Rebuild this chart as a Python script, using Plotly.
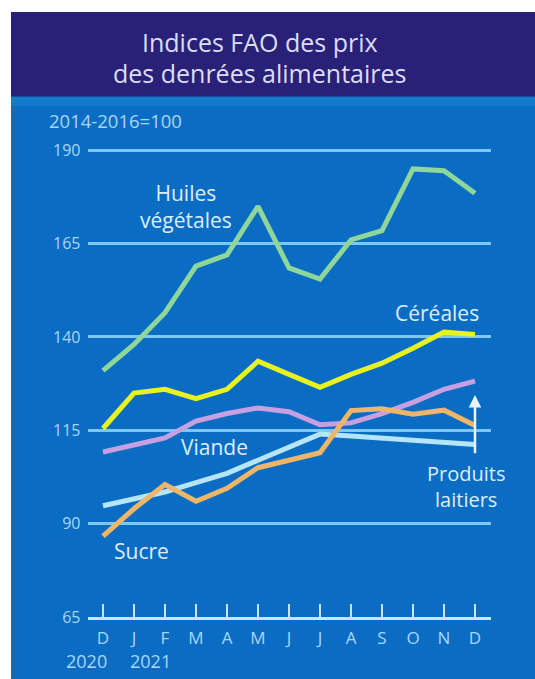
import plotly.graph_objects as go

# ---- data ----
months = ["D", "J", "F", "M", "A", "M", "J", "J", "A", "S", "O", "N", "D"]
huiles_vegetales = [131, 138, 146.5, 159, 162, 175, 158.5, 155.5, 166, 168.5, 185, 184.5, 178.5]
cereales = [115.5, 125, 126, 123.5, 126, 133.5, 130, 126.5, 130, 133, 137, 141.3, 140.7]
produits_laitiers = [109.2, 111, 113, 117.5, 119.5, 121, 120, 116.5, 117, 119.5, 122.5, 126, 128.2]
viande = [94.8, 96.5, 98.5, 101, 103.5, 107, 110.5, 114, 113.5, 113, 112.5, 112, 111.2]
sucre = [86.7, 94, 100.5, 96, 99.5, 105, 107, 109, 120.3, 120.8, 119.3, 120.4, 116.3]
y_ticks = [65, 90, 115, 140, 165, 190]
years = ["2020", "2021"]

W, H = 535, 679
HM = 669  # empirical vertical mapping (rendered picture is slightly squeezed)
def px(p): return p / W
def py(p): return 1 - p / HM

idx = list(range(len(months)))

fig = go.Figure()
series = [
    (viande, "#B6E4F8"),
    (produits_laitiers, "#C7A0E2"),
    (sucre, "#EFB668"),
    (cereales, "#E8F222"),
    (huiles_vegetales, "#8ED69A"),
]
for vals, col in series:
    fig.add_trace(go.Scatter(x=idx, y=vals, mode="lines",
                             line=dict(color=col, width=5), hoverinfo="skip"))

lab_col = "#DDEEFA"
tick_col = "#A9D6F5"
annos = [
    dict(text="Indices FAO des prix", x=px(260), y=py(42), font=dict(size=25, color="#DCDDF2")),
    dict(text="des denrées alimentaires", x=px(259), y=py(73), font=dict(size=25, color="#DCDDF2")),
    dict(text="2014-2016=100", x=px(47), y=py(121), xanchor="left", font=dict(size=18.5, color=tick_col)),
    dict(text="Huiles<br>végétales", x=px(186), y=py(207), font=dict(size=21, color=lab_col)),
    dict(text="Céréales", x=px(437), y=py(313), font=dict(size=21, color=lab_col)),
    dict(text="Viande", x=px(214), y=py(448), font=dict(size=21, color=lab_col)),
    dict(text="Sucre", x=px(141), y=py(552), font=dict(size=21, color=lab_col)),
    dict(text="Produits<br>laitiers", x=px(466), y=py(487), font=dict(size=20, color=lab_col)),
    dict(text=years[0], x=px(86), y=py(661.5), font=dict(size=18, color=tick_col)),
    dict(text=years[1], x=px(150), y=py(661.5), font=dict(size=18, color=tick_col)),
]
for a in annos:
    a.setdefault("xanchor", "center")
    fig.add_annotation(xref="paper", yref="paper", yanchor="middle", showarrow=False, **a)

# arrow pointing to the dairy line
fig.add_annotation(x=12, y=124.5, ax=12, ay=108.5, xref="x", yref="y", axref="x", ayref="y",
                   text="", showarrow=True, arrowhead=2, arrowsize=1, arrowwidth=2.5,
                   arrowcolor="#E6F3FC")

fig.update_layout(
    width=W, height=H,
    margin=dict(l=0, r=0, t=0, b=0),
    paper_bgcolor="white",
    plot_bgcolor="rgba(0,0,0,0)",
    showlegend=False,
    font=dict(family="Open Sans, sans-serif"),
    shapes=[
        dict(type="rect", xref="paper", yref="paper", x0=px(11), x1=1, y0=-0.05, y1=py(12),
             fillcolor="#0A6DC3", line=dict(width=0), layer="below"),
        dict(type="rect", xref="paper", yref="paper", x0=px(11), x1=1, y0=py(97), y1=py(12),
             fillcolor="#292178", line=dict(width=0), layer="below"),
        dict(type="rect", xref="paper", yref="paper", x0=px(11), x1=1, y0=py(106), y1=py(97),
             fillcolor="#127CCB", line=dict(width=0), layer="below"),
    ],
    xaxis=dict(
        domain=[px(87.5), px(490.5)], range=[-0.5, 12.5],
        tickmode="array", tickvals=idx, ticktext=months,
        ticks="inside", ticklen=13, tickwidth=2, tickcolor="#C8E6FA",
        showline=True, linecolor="#C8E6FA", linewidth=3,
        showgrid=False, zeroline=False,
        tickfont=dict(size=17, color=tick_col), ticklabelstandoff=4,
    ),
    yaxis=dict(
        domain=[py(618), py(128.06)], range=[65, 196],
        tickmode="array", tickvals=y_ticks,
        showgrid=True, gridcolor="#7EC6F4", gridwidth=3,
        zeroline=False, showline=False, ticks="",
        tickfont=dict(size=16, color=tick_col), ticklabelstandoff=6,
    ),
)

fig.write_html("out.html")
